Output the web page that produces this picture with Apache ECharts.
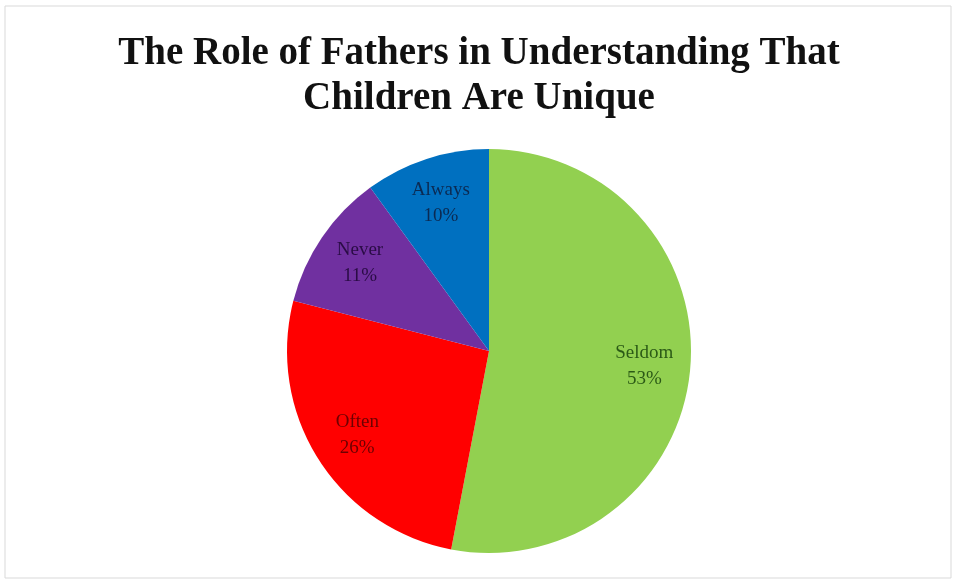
<!DOCTYPE html>
<html><head><meta charset="utf-8">
<script src="https://cdn.jsdelivr.net/npm/echarts@6/dist/echarts.min.js"></script>
<style>html,body{margin:0;padding:0;background:#fff}#c{width:958px;height:583px}</style>
</head><body><div id="c"></div>
<script>
const categories = ['Seldom', 'Often', 'Never', 'Always'];
const values = [53, 26, 11, 10];
const sliceColors = ['#92D050', '#FF0000', '#7030A0', '#0070C0'];
const labelColors = ['#2b5a16', '#6e0000', '#2a0c45', '#0b2a52'];

const chart = echarts.init(document.getElementById('c'));
const data = categories.map((n, i) => ({name: n, value: values[i], itemStyle: {color: sliceColors[i]}}));
const labelData = categories.map((n, i) => ({name: n, value: values[i],
  itemStyle: {color: 'rgba(0,0,0,0)'},
  label: {color: labelColors[i]}}));
chart.setOption({
  animation: false,
  backgroundColor: '#fff',
  graphic: [{type: 'rect', shape: {x: 5, y: 6, width: 946, height: 572}, style: {fill: 'none', stroke: '#d9d9d9', lineWidth: 1}}],
  title: {
    text: 'The Role of Fathers in Understanding That\nChildren Are Unique',
    left: 'center', top: 26,
    textStyle: {fontFamily: 'Liberation Serif', fontWeight: 'bold', fontSize: 39, lineHeight: 45, color: '#111'}
  },
  series: [
    {type: 'pie', center: [489, 351], radius: [0, 202], startAngle: 90, clockwise: true,
      label: {show: false}, labelLine: {show: false}, silent: true,
      itemStyle: {borderWidth: 0}, data: data},
    {type: 'pie', center: [489, 351], radius: [104, 202], startAngle: 90, clockwise: true,
      silent: true, labelLine: {show: false},
      label: {show: true, position: 'inside', formatter: '{b}\n{c}%',
        fontFamily: 'Liberation Serif', fontSize: 19, lineHeight: 26},
      data: labelData}
  ]
});
</script></body></html>
